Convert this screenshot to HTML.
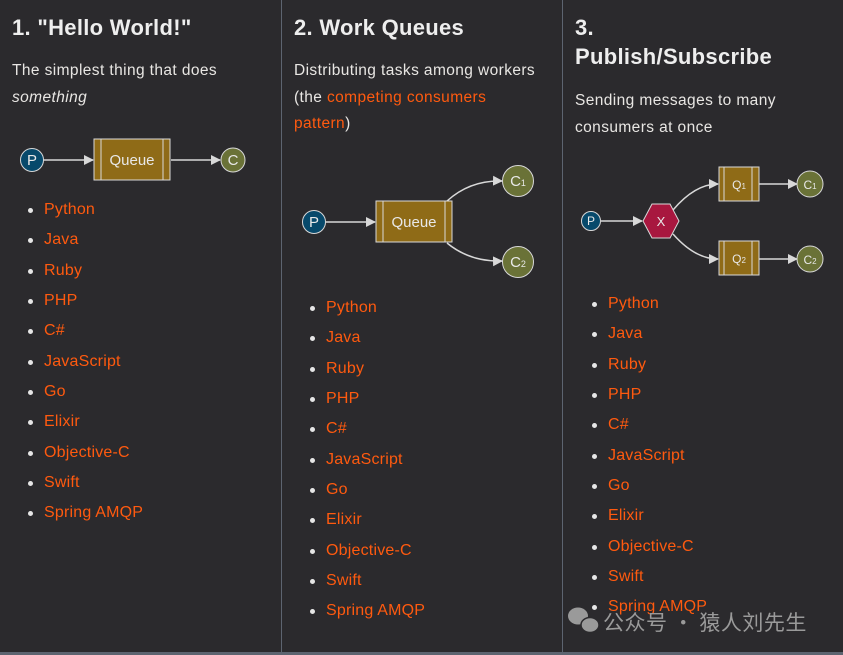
<!DOCTYPE html>
<html><head><meta charset="utf-8"><style>
html,body{margin:0;padding:0;}
body{width:843px;height:655px;background:#2b2a2d;position:relative;overflow:hidden;font-family:"Liberation Sans","Noto Sans CJK SC",sans-serif;color:#e8e6e3;}
.vl{position:absolute;top:0;width:1px;height:655px;background:#5d6470;}
.bl{position:absolute;left:0;top:652px;width:843px;height:3px;background:#5d6470;}
h2{position:absolute;margin:0;font-size:22px;font-weight:bold;line-height:29px;color:#eeeeee;letter-spacing:0.3px;}
.p{position:absolute;margin:0;font-size:15.5px;line-height:26.5px;color:#e8e6e3;letter-spacing:0.4px;white-space:nowrap;}
a{color:#ff5a0f;text-decoration:none;}
ul{position:absolute;margin:0;padding:0;list-style:none;}
li{position:relative;height:30.35px;line-height:20px;font-size:16px;color:#ff5a0f;padding-left:16px;letter-spacing:0.2px;}
li:before{content:"";position:absolute;left:0;top:8px;width:5px;height:5px;border-radius:50%;background:#e6e6e6;}
svg{position:absolute;left:0;top:0;}
.wm{position:absolute;left:603px;top:607px;font-size:21px;color:#9a9a9a;letter-spacing:0.5px;font-family:"Noto Sans CJK SC",sans-serif;white-space:nowrap;}
</style></head><body>
<div class="vl" style="left:281px"></div>
<div class="vl" style="left:562px"></div>
<div class="bl"></div>

<h2 style="left:12px;top:13px">1. "Hello World!"</h2>
<p class="p" style="left:12px;top:58px">The simplest thing that does<br><i>something</i></p>

<h2 style="left:294px;top:13px">2. Work Queues</h2>
<p class="p" style="left:294px;top:58px">Distributing tasks among workers<br>(the <a>competing consumers</a><br><a>pattern</a>)</p>

<h2 style="left:575px;top:13px;width:250px">3.<br>Publish/Subscribe</h2>
<p class="p" style="left:575px;top:88px">Sending messages to many<br>consumers at once</p>

<ul style="left:28px;top:200px"><li>Python</li><li>Java</li><li>Ruby</li><li>PHP</li><li>C#</li><li>JavaScript</li><li>Go</li><li>Elixir</li><li>Objective-C</li><li>Swift</li><li>Spring AMQP</li></ul>
<ul style="left:310px;top:298px"><li>Python</li><li>Java</li><li>Ruby</li><li>PHP</li><li>C#</li><li>JavaScript</li><li>Go</li><li>Elixir</li><li>Objective-C</li><li>Swift</li><li>Spring AMQP</li></ul>
<ul style="left:592px;top:294px"><li>Python</li><li>Java</li><li>Ruby</li><li>PHP</li><li>C#</li><li>JavaScript</li><li>Go</li><li>Elixir</li><li>Objective-C</li><li>Swift</li><li>Spring AMQP</li></ul>

<svg width="843" height="655" font-family="Liberation Sans, sans-serif">
<defs><marker id="ar" markerWidth="10" markerHeight="10" refX="9" refY="5" orient="auto" markerUnits="userSpaceOnUse"><path d="M0,0 L10,5 L0,10z" fill="#d8d8d8"/></marker></defs>
<g stroke="#d8d8d8" stroke-width="1.5" fill="none">
<line x1="43" y1="160" x2="93" y2="160" marker-end="url(#ar)"/>
<line x1="171" y1="160" x2="220" y2="160" marker-end="url(#ar)"/>
<line x1="326" y1="222" x2="375" y2="222" marker-end="url(#ar)"/>
<path d="M447,201 Q470,180 502,181" marker-end="url(#ar)"/>
<path d="M447,243 Q470,262 502,261" marker-end="url(#ar)"/>
<line x1="601" y1="221" x2="642" y2="221" marker-end="url(#ar)"/>
<path d="M673,210 Q695,184 718,184" marker-end="url(#ar)"/>
<path d="M673,234 Q695,259 718,259" marker-end="url(#ar)"/>
<line x1="759" y1="184" x2="797" y2="184" marker-end="url(#ar)"/>
<line x1="759" y1="259" x2="797" y2="259" marker-end="url(#ar)"/>
</g>
<g stroke="#d8d8d8" stroke-width="1">
<circle cx="32" cy="160" r="11.5" fill="#07496b"/>
<rect x="94" y="139" width="76" height="41" fill="#8f6b17"/>
<line x1="101" y1="139" x2="101" y2="180"/><line x1="163" y1="139" x2="163" y2="180"/>
<circle cx="233" cy="160" r="12" fill="#6a7237"/>
<circle cx="314" cy="222" r="11.5" fill="#07496b"/>
<rect x="376" y="201" width="76" height="41" fill="#8f6b17"/>
<line x1="383" y1="201" x2="383" y2="242"/><line x1="445" y1="201" x2="445" y2="242"/>
<circle cx="518" cy="181" r="15.5" fill="#6a7237"/>
<circle cx="518" cy="262" r="15.5" fill="#6a7237"/>
<circle cx="591" cy="221" r="9.5" fill="#07496b"/>
<polygon points="643,221 652,204 670,204 679,221 670,238 652,238" fill="#a8173f"/>
<rect x="719" y="167" width="40" height="34" fill="#8f6b17"/>
<line x1="724" y1="167" x2="724" y2="201"/><line x1="752" y1="167" x2="752" y2="201"/>
<rect x="719" y="241" width="40" height="34" fill="#8f6b17"/>
<line x1="724" y1="241" x2="724" y2="275"/><line x1="752" y1="241" x2="752" y2="275"/>
<circle cx="810" cy="184" r="13" fill="#6a7237"/>
<circle cx="810" cy="259" r="13" fill="#6a7237"/>
</g>
<g fill="#e8e8e8" text-anchor="middle" font-size="15">
<text x="32" y="165">P</text>
<text x="132" y="165">Queue</text>
<text x="233" y="165">C</text>
<text x="314" y="227">P</text>
<text x="414" y="227">Queue</text>
<text x="518" y="186">C<tspan font-size="9">1</tspan></text>
<text x="518" y="267">C<tspan font-size="9">2</tspan></text>
<text x="591" y="225" font-size="12">P</text>
<text x="661" y="226" font-size="13">X</text>
<text x="739" y="189" font-size="12">Q<tspan font-size="8">1</tspan></text>
<text x="739" y="263" font-size="12">Q<tspan font-size="8">2</tspan></text>
<text x="810" y="189" font-size="12">C<tspan font-size="8">1</tspan></text>
<text x="810" y="264" font-size="12">C<tspan font-size="8">2</tspan></text>
</g>
<g fill="#9a9a9a">
<ellipse cx="578" cy="616" rx="10" ry="8.5"/>
<ellipse cx="590" cy="625" rx="9" ry="7.5" stroke="#2b2a2d" stroke-width="1.5"/>
</g>
</svg>
<div class="wm">公众号 · 猿人刘先生</div>
</body></html>
